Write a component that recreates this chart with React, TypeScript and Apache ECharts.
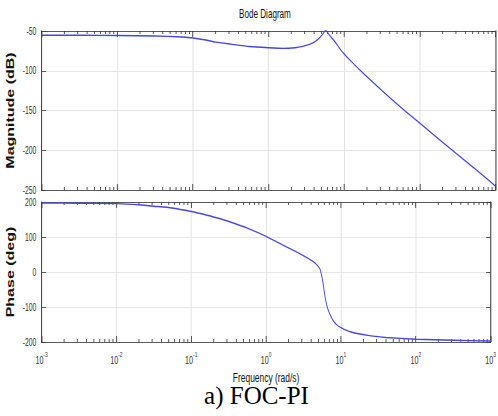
import React, { useEffect, useRef } from "react";
import * as echarts from "echarts";

// ---- data ----
const magFreq = [0.001, 0.00316, 0.01, 0.0316, 0.0631, 0.1, 0.141, 0.2, 0.316, 0.562, 1, 1.585, 2.24, 2.75, 3.55, 4.17, 4.79, 5.25, 5.69, 6.31, 7.53, 8.51, 9.7, 12.6, 17.8, 31.6, 56.2, 100, 178, 316, 562, 1000];
const magDb = [-55.3, -55.4, -55.6, -56.3, -57.3, -58.8, -61, -64, -66.5, -69.5, -71, -71.8, -71, -69.7, -66.5, -63, -58, -53.5, -48.7, -54.5, -63.4, -70.4, -77.5, -89, -103, -125, -146, -166, -186, -205.5, -225, -245];

const phaseFreq = [0.001, 0.00316, 0.01, 0.02, 0.0316, 0.055, 0.1, 0.158, 0.245, 0.398, 0.55, 1, 1.82, 3.02, 4.17, 4.79, 5.25, 5.5, 5.75, 6.17, 6.61, 7.16, 7.94, 8.71, 10, 12.6, 15.8, 22.9, 39.8, 100, 316, 1000];
const phaseDeg = [197, 196.5, 195.5, 192, 188, 183, 173, 163, 152, 137, 126, 102, 73, 49, 31, 20, 8, -8, -30, -74, -102, -122, -140, -150, -159, -169, -175, -181, -187, -192, -195, -197];

const freqRange = [0.001, 1000];
const magRange = [-250, -50];
const magStep = 50;
const phaseRange = [-200, 200];
const phaseStep = 100;

const titleText = "Bode Diagram";
const magLabel = "Magnitude (dB)";
const phaseLabel = "Phase (deg)";
const freqLabel = "Frequency (rad/s)";
const caption = "a) FOC-PI";

// ---- layout (the figure is horizontally condensed) ----
const S = 0.65;
const W = 498 / S;
const X = (px: number) => px / S;

const axisColor = "#3a3a3a";
const gridColor = "#e2e2e2";
const lineColor = "#4646e6";
const sans = "'Liberation Sans', Arial, sans-serif";

function minorTickFreqs(): number[] {
  const out: number[] = [];
  for (let d = -3; d < 3; d++) {
    for (let k = 2; k <= 9; k++) out.push(Number((k * Math.pow(10, d)).toPrecision(3)));
  }
  return out;
}

export default function App() {
  const ref = useRef<HTMLDivElement>(null);

  useEffect(() => {
    if (!ref.current) return;
    const chart = echarts.init(ref.current, undefined, { renderer: "svg" });
    const minors = minorTickFreqs();

    const makeTicks = (yTop: number, yBot: number) => (_p: any, api: any) => {
      const f = api.value(0);
      const a = api.coord([f, yTop]);
      const b = api.coord([f, yBot]);
      const st = { stroke: axisColor, lineWidth: 1.3 };
      return {
        type: "group",
        children: [
          { type: "line", shape: { x1: a[0], y1: a[1], x2: a[0], y2: a[1] + 3 }, style: st },
          { type: "line", shape: { x1: b[0], y1: b[1], x2: b[0], y2: b[1] - 3 }, style: st },
        ],
      };
    };

    const xBase = (gridIndex: number, position: "top" | "bottom", main: boolean, labels: boolean) => ({
      type: "log",
      logBase: 10,
      gridIndex,
      position,
      min: freqRange[0],
      max: freqRange[1],
      splitNumber: 6,
      axisLine: { show: true, onZero: false, lineStyle: { color: axisColor, width: 1 } },
      axisTick: { show: true, inside: true, length: 6, lineStyle: { color: axisColor, width: 1.3 } },
      splitLine: { show: main, lineStyle: { color: gridColor, width: 1.5 } },
      minorTick: { show: false },
      axisLabel: labels
        ? {
            show: true,
            margin: 8,
            formatter: (v: number) => `{b|10}{s|${Math.round(Math.log10(v))}}`,
            rich: {
              b: { fontSize: 11, fontFamily: sans, color: "#333", verticalAlign: "bottom", lineHeight: 16 },
              s: { fontSize: 7.5, fontFamily: sans, color: "#333", verticalAlign: "top", lineHeight: 16 },
            },
          }
        : { show: false },
    });

    const yBase = (gridIndex: number, position: "left" | "right", range: number[], step: number, main: boolean) => ({
      type: "value",
      gridIndex,
      position,
      min: range[0],
      max: range[1],
      interval: step,
      axisLine: { show: true, onZero: false, lineStyle: { color: axisColor, width: 1.5 } },
      axisTick: { show: true, inside: true, length: 7, lineStyle: { color: axisColor, width: 1 } },
      splitLine: { show: main, lineStyle: { color: gridColor, width: 1 } },
      axisLabel: main
        ? { show: true, fontSize: 10.5, fontFamily: sans, color: "#333", margin: 8 }
        : { show: false },
    });

    chart.setOption({
      animation: false,
      backgroundColor: "#ffffff",
      title: {
        text: titleText,
        left: X(265) - 40,
        top: 7,
        padding: 0,
        textStyle: { fontSize: 12.5, fontWeight: "normal", fontFamily: sans, color: "#111" },
      },
      grid: [
        { left: X(37), top: 31, width: X(458.5), height: 159 },
        { left: X(37), top: 202, width: X(458.5), height: 140 },
      ],
      xAxis: [
        xBase(0, "bottom", true, false),
        {
          ...xBase(1, "bottom", true, true),
          name: freqLabel,
          nameLocation: "middle",
          nameGap: 29,
          nameTextStyle: { fontSize: 13, fontFamily: sans, color: "#111" },
        },
        xBase(0, "top", false, false),
        xBase(1, "top", false, false),
      ],
      yAxis: [
        {
          ...yBase(0, "left", magRange, magStep, true),
          name: magLabel,
          nameLocation: "middle",
          nameGap: 26,
          nameTextStyle: { fontSize: 16, fontWeight: "bold", fontFamily: sans, color: "#111" },
        },
        {
          ...yBase(1, "left", phaseRange, phaseStep, true),
          name: phaseLabel,
          nameLocation: "middle",
          nameGap: 26,
          nameTextStyle: { fontSize: 16, fontWeight: "bold", fontFamily: sans, color: "#111" },
        },
        yBase(0, "right", magRange, magStep, false),
        yBase(1, "right", phaseRange, phaseStep, false),
      ],
      series: [
        {
          type: "line",
          xAxisIndex: 0,
          yAxisIndex: 0,
          data: magFreq.map((f, i) => [f, magDb[i]]),
          showSymbol: false,
          smooth: 0.2,
          lineStyle: { color: lineColor, width: 1.4 },
        },
        {
          type: "line",
          xAxisIndex: 1,
          yAxisIndex: 1,
          data: phaseFreq.map((f, i) => [f, phaseDeg[i]]),
          showSymbol: false,
          smooth: 0.2,
          lineStyle: { color: lineColor, width: 1.4 },
        },
        {
          type: "custom",
          xAxisIndex: 0,
          yAxisIndex: 0,
          silent: true,
          encode: { x: 0, y: 1 },
          data: minors.map((f) => [f, magRange[1]]),
          renderItem: makeTicks(magRange[1], magRange[0]),
        },
        {
          type: "custom",
          xAxisIndex: 1,
          yAxisIndex: 1,
          silent: true,
          encode: { x: 0, y: 1 },
          data: minors.map((f) => [f, phaseRange[1]]),
          renderItem: makeTicks(phaseRange[1], phaseRange[0]),
        },
      ],
      graphic: [
        {
          type: "text",
          x: X(256.5),
          y: 395,
          scaleX: 1 / S,
          style: {
            text: caption,
            fontSize: 25,
            fontFamily: "'Liberation Serif', 'Times New Roman', serif",
            fill: "#000",
            textAlign: "center",
            textVerticalAlign: "middle",
            align: "center",
            verticalAlign: "middle",
          },
        },
      ],
    });

    return () => chart.dispose();
  }, []);

  return (
    <div style={{ position: "fixed", left: 0, top: 0, width: 498, height: 416, overflow: "hidden", background: "#fff" }}>
      <div
        ref={ref}
        style={{ width: W, height: 416, transform: `scaleX(${S})`, transformOrigin: "0 0" }}
      />
    </div>
  );
}
